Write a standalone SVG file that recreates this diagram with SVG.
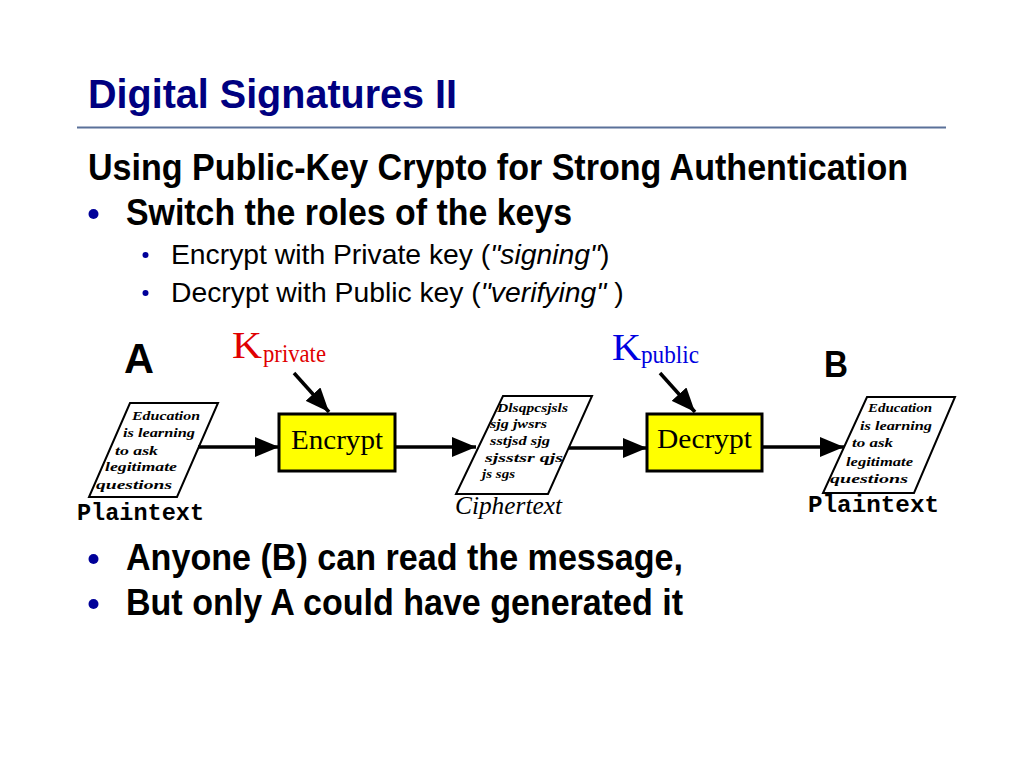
<svg xmlns="http://www.w3.org/2000/svg" width="1024" height="768" viewBox="0 0 1024 768">
<defs>
<style>
.title{font-family:"Liberation Sans",Arial,sans-serif;font-weight:bold;fill:#000080}
.b1{font-family:"Liberation Sans",Arial,sans-serif;font-weight:bold;fill:#000;font-size:36px}
.b2{font-family:"Liberation Sans",Arial,sans-serif;fill:#000;font-size:28.3px}
.it{font-style:italic}
.dot{fill:#000099}
.box{fill:#ffff00;stroke:#000;stroke-width:3}
.boxt{font-family:"Liberation Serif","Times New Roman",serif;font-size:28px;fill:#000}
.doc{fill:#fff;stroke:#000;stroke-width:2}
.doct{font-family:"Liberation Serif","Times New Roman",serif;font-style:italic;font-weight:bold;font-size:13px;fill:#000}
.mono{font-family:"Liberation Mono","Courier New",monospace;font-weight:bold;font-size:24px;fill:#000}
.who{font-family:"Liberation Sans",Arial,sans-serif;font-weight:bold;fill:#000}
.key{font-family:"Liberation Serif","Times New Roman",serif}
.conn{stroke:#000;stroke-width:3.5;fill:none;marker-end:url(#ah)}
</style>
<marker id="ah" markerUnits="userSpaceOnUse" markerWidth="24" markerHeight="20" viewBox="0 0 24 20" refX="24" refY="10" orient="auto">
<path d="M0,0 L24,10 L0,20 z" fill="#000"/>
</marker>
</defs>
<rect width="1024" height="768" fill="#fff"/>

<g id="slide-text">
<text class="title" x="88" y="108" font-size="41" textLength="369" lengthAdjust="spacingAndGlyphs">Digital Signatures II</text>
<line x1="77" y1="127.5" x2="946" y2="127.5" stroke="#5a7199" stroke-width="2"/>
<text class="b1" x="88" y="180" textLength="820" lengthAdjust="spacingAndGlyphs">Using Public-Key Crypto for Strong Authentication</text>
<circle class="dot" cx="93.5" cy="214" r="5"/>
<text class="b1" x="126" y="225" textLength="446" lengthAdjust="spacingAndGlyphs">Switch the roles of the keys</text>
<circle class="dot" cx="145.5" cy="255" r="3"/>
<text class="b2" x="171" y="264">Encrypt with Private key (<tspan class="it">"signing"</tspan>)</text>
<circle class="dot" cx="145.5" cy="293" r="3"/>
<text class="b2" x="171" y="302">Decrypt with Public key (<tspan class="it">"verifying"</tspan> )</text>
<circle class="dot" cx="93.5" cy="559" r="5"/>
<text class="b1" x="126" y="570" textLength="557" lengthAdjust="spacingAndGlyphs">Anyone (B) can read the message,</text>
<circle class="dot" cx="93.5" cy="604" r="5"/>
<text class="b1" x="126" y="615" textLength="557" lengthAdjust="spacingAndGlyphs">But only A could have generated it</text>
</g>

<g id="label-A"><text class="who" x="124" y="373" font-size="42" textLength="30" lengthAdjust="spacingAndGlyphs">A</text></g>
<g id="label-B"><text class="who" x="824" y="377" font-size="36" textLength="24" lengthAdjust="spacingAndGlyphs">B</text></g>

<g id="key-private">
<text class="key" x="232" y="358" font-size="37" fill="#e00000" textLength="30" lengthAdjust="spacingAndGlyphs">K</text>
<text class="key" x="263" y="362" font-size="25" fill="#e00000" textLength="63" lengthAdjust="spacingAndGlyphs">private</text>
</g>
<g id="key-public">
<text class="key" x="612" y="360" font-size="37" fill="#0000e0" textLength="29" lengthAdjust="spacingAndGlyphs">K</text>
<text class="key" x="641" y="363" font-size="25" fill="#0000e0" textLength="58" lengthAdjust="spacingAndGlyphs">public</text>
</g>

<g id="plaintext-A">
<polygon class="doc" points="130,403 218,403 177,497 89,497"/>
<text class="doct" x="132" y="420" textLength="68" lengthAdjust="spacingAndGlyphs">Education</text>
<text class="doct" x="123" y="437" textLength="72" lengthAdjust="spacingAndGlyphs">is learning</text>
<text class="doct" x="115" y="455" textLength="43" lengthAdjust="spacingAndGlyphs">to ask</text>
<text class="doct" x="105" y="471" textLength="72" lengthAdjust="spacingAndGlyphs">legitimate</text>
<text class="doct" x="96" y="489" textLength="76" lengthAdjust="spacingAndGlyphs">questions</text>
<text class="mono" x="77" y="520" textLength="127" lengthAdjust="spacingAndGlyphs">Plaintext</text>
</g>

<g id="encrypt">
<rect class="box" x="279" y="414" width="116" height="57"/>
<text class="boxt" x="291" y="449" textLength="92" lengthAdjust="spacingAndGlyphs">Encrypt</text>
</g>

<g id="ciphertext">
<polygon class="doc" points="503,396 592,396 548,494 456,494"/>
<text class="doct" x="497" y="412" textLength="71" lengthAdjust="spacingAndGlyphs">Dlsqpcsjsls</text>
<text class="doct" x="490" y="428" textLength="57" lengthAdjust="spacingAndGlyphs">sjg jwsrs</text>
<text class="doct" x="490" y="445" textLength="60" lengthAdjust="spacingAndGlyphs">sstjsd sjg</text>
<text class="doct" x="485" y="462" textLength="78" lengthAdjust="spacingAndGlyphs">sjsstsr qjs</text>
<text class="doct" x="482" y="478" textLength="33" lengthAdjust="spacingAndGlyphs">js sgs</text>
<text class="key" x="455" y="514" font-size="25" font-style="italic" textLength="107" lengthAdjust="spacingAndGlyphs">Ciphertext</text>
</g>

<g id="decrypt">
<rect class="box" x="647" y="414" width="115" height="57"/>
<text class="boxt" x="657" y="448" textLength="95" lengthAdjust="spacingAndGlyphs">Decrypt</text>
</g>

<g id="plaintext-B">
<polygon class="doc" points="867,397 955,397 914,493 823,493"/>
<text class="doct" x="868" y="412" textLength="64" lengthAdjust="spacingAndGlyphs">Education</text>
<text class="doct" x="860" y="430" textLength="72" lengthAdjust="spacingAndGlyphs">is learning</text>
<text class="doct" x="852" y="447" textLength="41" lengthAdjust="spacingAndGlyphs">to ask</text>
<text class="doct" x="846" y="466" textLength="67" lengthAdjust="spacingAndGlyphs">legitimate</text>
<text class="doct" x="830" y="483" textLength="78" lengthAdjust="spacingAndGlyphs">questions</text>
<text class="mono" x="808" y="512" textLength="131" lengthAdjust="spacingAndGlyphs">Plaintext</text>
</g>

<g id="connectors">
<line class="conn" x1="198" y1="447" x2="279" y2="447"/>
<line class="conn" x1="395" y1="447" x2="476" y2="447"/>
<line class="conn" x1="569" y1="448" x2="647" y2="448"/>
<line class="conn" x1="762" y1="447" x2="844" y2="447"/>
<line class="conn" x1="294" y1="373" x2="329" y2="412"/>
<line class="conn" x1="660" y1="373" x2="695" y2="412"/>
</g>
</svg>
